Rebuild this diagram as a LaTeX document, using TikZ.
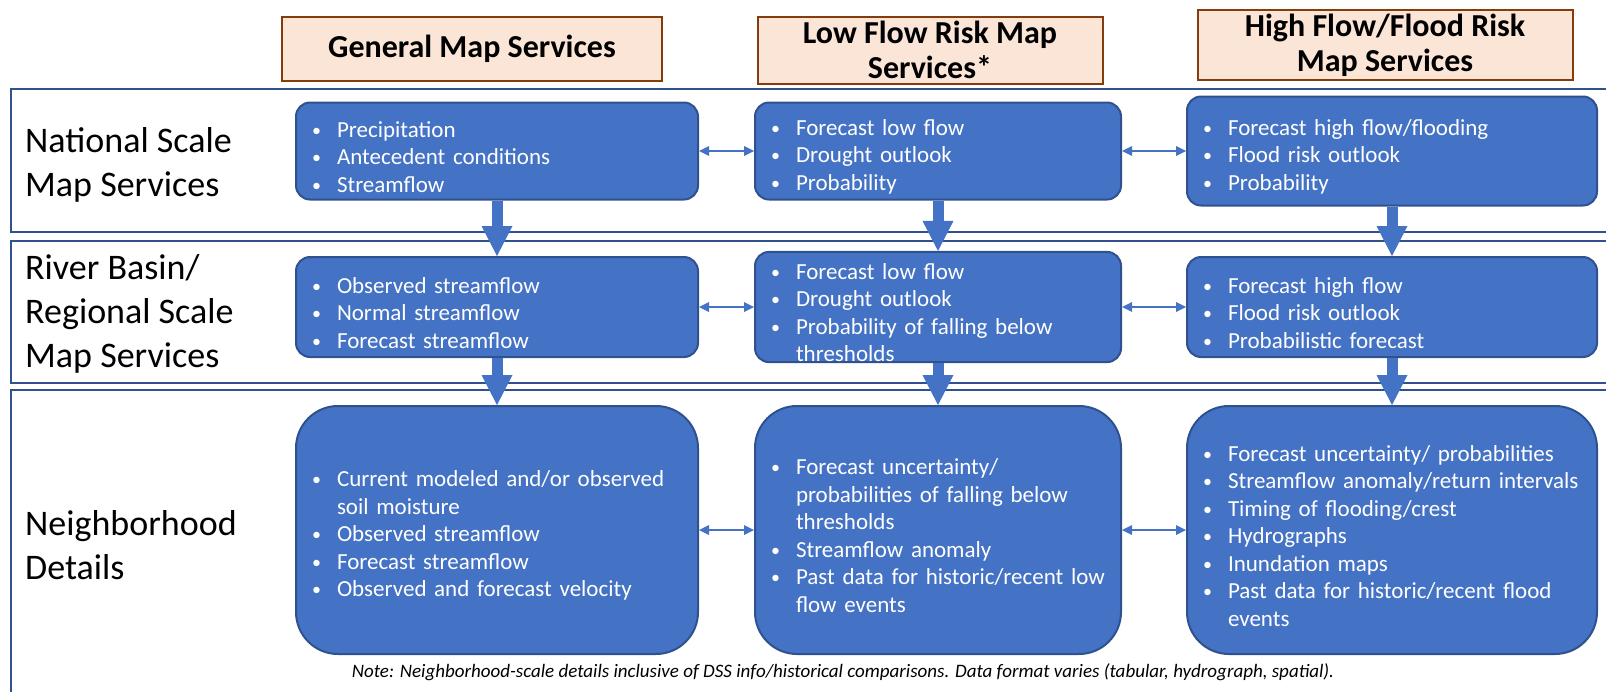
\documentclass[tikz,border=0pt]{standalone}
\usepackage{fontspec}
\setmainfont{Carlito}
\usetikzlibrary{positioning,arrows.meta}

\definecolor{boxblue}{HTML}{4472C4}
\definecolor{boxedge}{HTML}{2F528F}
\definecolor{bandedge}{HTML}{2F528F}
\definecolor{headfill}{HTML}{FBE5D6}
\definecolor{headedge}{HTML}{843C0C}

\newcommand{\bitem}[1]{\par\noindent\makebox[25pt][l]{\raisebox{1pt}{\fontsize{18}{18}\selectfont\textbullet}}#1}
\newcommand{\nxt}{\newline\hspace*{25pt}}

\tikzset{
  svc/.style={draw=boxedge, line width=2pt, fill=boxblue, text=white, rounded corners=14pt,
    inner xsep=16pt, inner ysep=0pt, align=left, font=\fontsize{23}{27.5}\selectfont},
  gencol/.style={text width=370pt},
  lowcol/.style={text width=334pt},
  highcol/.style={text width=378pt},
  natrow/.style={minimum height=97pt},
  regrow/.style={minimum height=100pt},
  nbhrow/.style={minimum height=248pt, rounded corners=42pt},
  header/.style={draw=headedge, fill=headfill, line width=2pt, inner sep=0pt, align=center,
    font=\bfseries\fontsize{32}{35}\selectfont},
  rowlabel/.style={anchor=west, align=left, inner sep=0pt, font=\fontsize{36}{44}\selectfont},
  band/.style={draw=bandedge, line width=2.5pt},
  biarrow/.style={color=boxblue, line width=2.2pt, >={Triangle[width=10pt,length=10pt,line width=0pt]}, <->},
  blockarrow/.style={color=boxblue, line width=11pt, -{Triangle[width=31pt,length=30pt,line width=0pt]}}
}

\begin{document}
\begin{tikzpicture}[x=1pt, y=-1pt, on grid, node distance=2cm]
\useasboundingbox (0,0) rectangle (1606,691);
\draw[band] (11,89) rectangle (1640,232);
\draw[band] (11,241) rectangle (1640,383);
\draw[band] (11,390) rectangle (1640,720);

\node[header, minimum width=380pt, minimum height=64pt] (gen_head) at (472,49) {General Map Services};
\node[header, minimum width=345pt, minimum height=67pt] (low_head) at (930,50) {Low Flow Risk Map\\Services*};
\node[header, minimum width=375pt, minimum height=70pt] (high_head) at (1385,45) {High Flow/Flood Risk\\Map Services};

\node[rowlabel] (nat_lbl) at (25,165) {National Scale\\Map Services};
\node[rowlabel] (reg_lbl) at (25,314) {River Basin/\\Regional Scale\\Map Services};
\node[rowlabel] (nbh_lbl) at (25,545) {Neighborhood\\Details};

\node[svc, gencol, natrow] (nat_gen) at (497,151)
  {\bitem{Precipitation}\bitem{Antecedent conditions}\bitem{Streamflow}};
\node[svc, lowcol, natrow] (nat_low) [right=441pt of nat_gen]
  {\bitem{Forecast low flow}\bitem{Drought outlook}\bitem{Probability}};
\node[svc, highcol, natrow, minimum height=109pt] (nat_high) [right=454pt of nat_low]
  {\bitem{Forecast high flow/flooding}\bitem{Flood risk outlook}\bitem{Probability}};

\node[svc, gencol, regrow] (reg_gen) [below=156pt of nat_gen]
  {\bitem{Observed streamflow}\bitem{Normal streamflow}\bitem{Forecast streamflow}};
\node[svc, lowcol, regrow] (reg_low) [right=441pt of reg_gen]
  {\bitem{Forecast low flow}\bitem{Drought outlook}\bitem{Probability of falling below\nxt thresholds}};
\node[svc, highcol, regrow] (reg_high) [right=454pt of reg_low]
  {\bitem{Forecast high flow}\bitem{Flood risk outlook}\bitem{Probabilistic forecast}};

\node[svc, gencol, nbhrow] (nbh_gen) [below=223pt of reg_gen]
  {\bitem{Current modeled and/or observed\nxt soil moisture}\bitem{Observed streamflow}
   \bitem{Forecast streamflow}\bitem{Observed and forecast velocity}};
\node[svc, lowcol, nbhrow] (nbh_low) [right=441pt of nbh_gen]
  {\bitem{Forecast uncertainty/\nxt probabilities of falling below\nxt thresholds}
   \bitem{Streamflow anomaly}\bitem{Past data for historic/recent low\nxt flow events}};
\node[svc, highcol, nbhrow] (nbh_high) [right=454pt of nbh_low]
  {\bitem{Forecast uncertainty/ probabilities}\bitem{Streamflow anomaly/return intervals}
   \bitem{Timing of flooding/crest}\bitem{Hydrographs}\bitem{Inundation maps}
   \bitem{Past data for historic/recent flood\nxt events}};

\node[anchor=base, font=\itshape\fontsize{19}{22}\selectfont] (note) at (843,677)
  {Note: Neighborhood-scale details inclusive of DSS info/historical comparisons. Data format varies (tabular, hydrograph, spatial).};

\path[biarrow]
(nat_gen) edge (nat_low)
(nat_low) edge (nat_high)
(reg_gen) edge (reg_low)
(reg_low) edge (reg_high)
(nbh_gen) edge (nbh_low)
(nbh_low) edge (nbh_high);
\path[blockarrow]
(nat_gen) edge (reg_gen)
(nat_low) edge (reg_low)
(nat_high) edge (reg_high)
(reg_gen) edge (nbh_gen)
(reg_low) edge (nbh_low)
(reg_high) edge (nbh_high);
\end{tikzpicture}
\end{document}
